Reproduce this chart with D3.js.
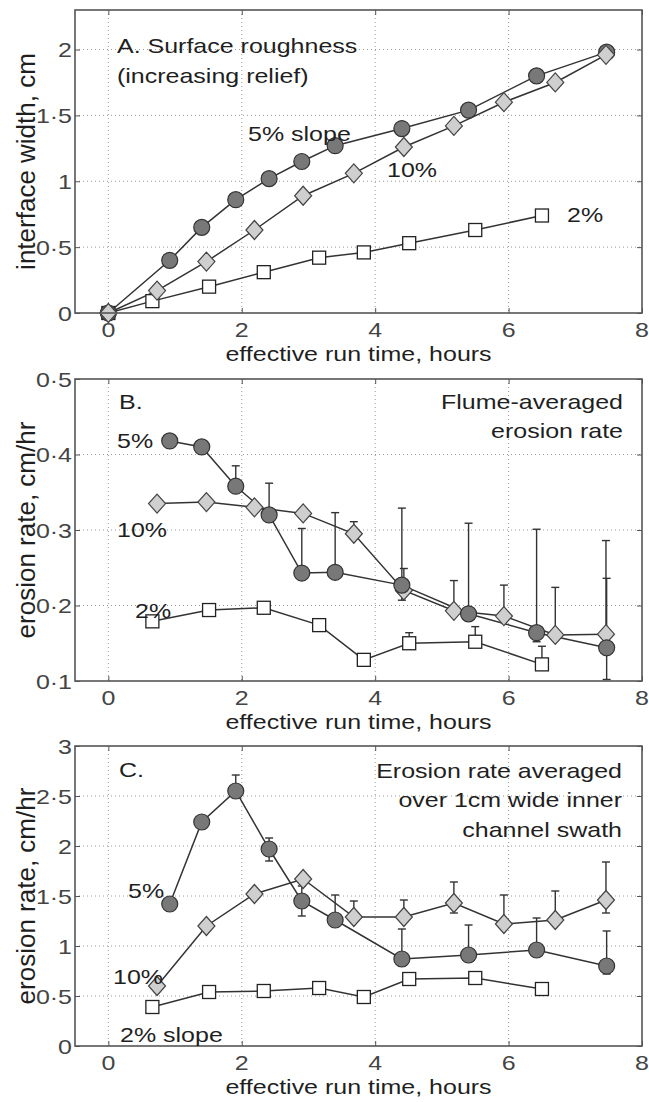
<!DOCTYPE html>
<html>
<head>
<meta charset="utf-8">
<script src="https://cdn.jsdelivr.net/npm/d3@7"></script>
<style>
    body { margin: 0; background: #fff; }
    svg text { font-family: "Liberation Sans", Arial, sans-serif; fill: #1f1f1f; }
</style>
</head>
<body>
<svg id="chart" width="649" height="1102"></svg>
<script>
// run times (hours) of each slope experiment
const hours5 = [0.92, 1.40, 1.91, 2.41, 2.90, 3.40, 4.40, 5.40, 6.42, 7.47];
const hours10 = [0.73, 1.47, 2.19, 2.92, 3.68, 4.43, 5.18, 5.93, 6.70, 7.46];
const hours2 = [0.66, 1.51, 2.33, 3.16, 3.83, 4.51, 5.50, 6.50];

const xTicks = [0, 2, 4, 6, 8];
const yTicksA = [0, 0.5, 1, 1.5, 2];
const yTicksB = [0.1, 0.2, 0.3, 0.4, 0.5];
const yTicksC = [0, 0.5, 1, 1.5, 2, 2.5, 3];

// A. interface width, cm (first point is the start, t = 0)
const roughness5 = [0, 0.40, 0.65, 0.86, 1.02, 1.15, 1.27, 1.40, 1.54, 1.80, 1.98];
const roughness10 = [0, 0.17, 0.39, 0.63, 0.89, 1.06, 1.26, 1.42, 1.60, 1.75, 1.96];
const roughness2 = [0, 0.09, 0.20, 0.31, 0.42, 0.46, 0.53, 0.63, 0.74];

// B. flume-averaged erosion rate, cm/hr
const flume5 = [0.418, 0.410, 0.358, 0.320, 0.243, 0.244, 0.227, 0.189, 0.164, 0.144];
const flume5Hi = [null, null, 0.385, 0.362, 0.302, 0.323, 0.329, 0.309, 0.301, 0.236];
const flume5Lo = [null, null, null, null, null, null, 0.207, null, 0.152, 0.102];
const flume10 = [0.335, 0.337, 0.330, 0.322, 0.295, 0.220, 0.193, 0.186, 0.161, 0.162];
const flume10Hi = [null, null, null, null, 0.311, 0.249, 0.233, 0.227, 0.224, 0.286];
const flume2 = [0.179, 0.194, 0.197, 0.174, 0.128, 0.150, 0.152, 0.122];
const flume2Hi = [null, null, null, null, null, 0.164, 0.172, 0.146];

// C. erosion rate over 1cm inner channel swath, cm/hr
const swath5 = [1.42, 2.24, 2.55, 1.97, 1.45, 1.26, 0.87, 0.91, 0.96, 0.80];
const swath5Hi = [null, null, 2.71, 2.08, 1.60, 1.51, 1.17, 1.21, 1.28, 1.15];
const swath5Lo = [null, null, null, 1.85, 1.30, null, 0.80, null, null, 0.72];
const swath10 = [0.60, 1.20, 1.52, 1.67, 1.29, 1.29, 1.43, 1.22, 1.26, 1.46];
const swath10Hi = [null, null, null, null, 1.45, 1.46, 1.64, 1.51, 1.55, 1.84];
const swath10Lo = [null, null, null, null, null, null, 1.33, null, null, 1.33];
const swath2 = [0.39, 0.54, 0.55, 0.58, 0.49, 0.67, 0.68, 0.57];

const STRETCH = 1.19;
const FONT = 21;
const left = 75, right = 642;

let svg = d3.select('#chart');

let x = d3.scaleLinear()
    .domain([-0.5, 8])
    .range([left, right]);

let fmt = d => String(d).replace('.', '·');

function addText(parent, px, py, str, anchor) {
    return parent.append('text')
        .attr('transform', `translate(${px},${py}) scale(${STRETCH},1)`)
        .attr('text-anchor', anchor || 'start')
        .style('font-size', FONT + 'px')
        .text(str);
}

function withZero(arr) {
    return [0].concat(arr);
}

let panels = [
    {
        top: 10, bottom: 313, domain: [0, 2.3], ticks: yTicksA,
        ylabel: 'interface width, cm',
        series: [
            {hours: withZero(hours2), values: roughness2, shape: 'square'},
            {hours: withZero(hours5), values: roughness5, shape: 'circle'},
            {hours: withZero(hours10), values: roughness10, shape: 'diamond'}
        ],
        notes: [
            [117, 53, 'A. Surface roughness', 'start'],
            [117, 83, '(increasing relief)', 'start'],
            [248, 141, '5% slope', 'start'],
            [387, 177, '10%', 'start'],
            [567, 222, '2%', 'start']
        ]
    },
    {
        top: 379, bottom: 681, domain: [0.1, 0.5], ticks: yTicksB,
        ylabel: 'erosion rate, cm/hr',
        series: [
            {hours: hours2, values: flume2, hi: flume2Hi, shape: 'square'},
            {hours: hours10, values: flume10, hi: flume10Hi, shape: 'diamond'},
            {hours: hours5, values: flume5, hi: flume5Hi, lo: flume5Lo, shape: 'circle'}
        ],
        notes: [
            [119, 409, 'B.', 'start'],
            [117, 448, '5%', 'start'],
            [117, 537, '10%', 'start'],
            [135, 618, '2%', 'start'],
            [623, 409, 'Flume-averaged', 'end'],
            [623, 438, 'erosion rate', 'end']
        ]
    },
    {
        top: 746, bottom: 1046, domain: [0, 3], ticks: yTicksC,
        ylabel: 'erosion rate, cm/hr',
        series: [
            {hours: hours2, values: swath2, shape: 'square'},
            {hours: hours10, values: swath10, hi: swath10Hi, lo: swath10Lo, shape: 'diamond'},
            {hours: hours5, values: swath5, hi: swath5Hi, lo: swath5Lo, shape: 'circle'}
        ],
        notes: [
            [119, 777, 'C.', 'start'],
            [128, 898, '5%', 'start'],
            [113, 984, '10%', 'start'],
            [120, 1042, '2% slope', 'start'],
            [622, 778, 'Erosion rate averaged', 'end'],
            [622, 807, 'over 1cm wide inner', 'end'],
            [622, 837, 'channel swath', 'end']
        ]
    }
];

panels.forEach(drawPanel);

function drawPanel(p) {
    let y = d3.scaleLinear()
        .domain(p.domain)
        .range([p.bottom, p.top]);

    let g = svg.append('g');

    // dotted grid
    g.selectAll('.vgrid')
        .data(xTicks.filter(d => x(d) < right - 1))
        .enter()
        .append('line')
        .attr('x1', d => x(d)).attr('x2', d => x(d))
        .attr('y1', p.top).attr('y2', p.bottom)
        .attr('stroke', '#9a9a9a')
        .attr('stroke-width', 1)
        .attr('stroke-dasharray', '1,3');

    g.selectAll('.hgrid')
        .data(p.ticks.filter(d => y(d) > p.top + 1 && y(d) < p.bottom - 1))
        .enter()
        .append('line')
        .attr('x1', left).attr('x2', right)
        .attr('y1', d => y(d)).attr('y2', d => y(d))
        .attr('stroke', '#9a9a9a')
        .attr('stroke-width', 1)
        .attr('stroke-dasharray', '1,3');

    // inward ticks on all four sides
    [
        [d3.axisBottom(x), `translate(0,${p.top})`, xTicks],
        [d3.axisTop(x), `translate(0,${p.bottom})`, xTicks],
        [d3.axisRight(y), `translate(${left},0)`, p.ticks],
        [d3.axisLeft(y), `translate(${right},0)`, p.ticks]
    ].forEach(([axis, tr, vals]) => {
        let a = g.append('g')
            .attr('transform', tr)
            .call(axis.tickValues(vals).tickSize(5).tickFormat(''));
        a.select('.domain').remove();
        a.selectAll('line').attr('stroke', '#555');
    });

    // tick labels
    xTicks.forEach(d => addText(g, x(d), p.bottom + 24, fmt(d), 'middle').style('fill', '#444'));
    p.ticks.forEach(d => addText(g, 72, y(d) + 7.5, fmt(d), 'end').style('fill', '#444'));

    addText(g, (left + right) / 2, p.bottom + 48, 'effective run time, hours', 'middle');

    g.append('text')
        .attr('transform', `translate(35,${(p.top + p.bottom) / 2}) rotate(-90)`)
        .attr('text-anchor', 'middle')
        .style('font-size', '26px')
        .text(p.ylabel);

    // lines and error bars first, markers on top
    p.series.forEach(s => {
        let pts = s.hours.map((h, i) => [h, s.values[i]]);

        g.append('path')
            .datum(pts)
            .attr('fill', 'none')
            .attr('stroke', '#333')
            .attr('stroke-width', 1.5)
            .attr('d', d3.line().x(d => x(d[0])).y(d => y(d[1])));

        let bars = [];
        s.hours.forEach((h, i) => {
            if (s.hi && s.hi[i] != null) bars.push([h, s.values[i], s.hi[i]]);
            if (s.lo && s.lo[i] != null) bars.push([h, s.values[i], s.lo[i]]);
        });

        let eb = g.selectAll(null)
            .data(bars)
            .enter()
            .append('g')
            .attr('stroke', '#333')
            .attr('stroke-width', 1.4);

        eb.append('line')
            .attr('x1', d => x(d[0])).attr('x2', d => x(d[0]))
            .attr('y1', d => y(d[1])).attr('y2', d => y(d[2]));
        eb.append('line')
            .attr('x1', d => x(d[0]) - 4).attr('x2', d => x(d[0]) + 4)
            .attr('y1', d => y(d[2])).attr('y2', d => y(d[2]));
    });

    p.series.forEach(s => {
        let pts = s.hours.map((h, i) => [h, s.values[i]]);
        let m = g.selectAll(null).data(pts).enter();

        if (s.shape === 'circle') {
            m.append('circle')
                .attr('cx', d => x(d[0]))
                .attr('cy', d => y(d[1]))
                .attr('r', 8)
                .attr('fill', '#787878')
                .attr('stroke', '#333')
                .attr('stroke-width', 1.2);
        } else if (s.shape === 'diamond') {
            m.append('path')
                .attr('d', d => {
                    let cx = x(d[0]), cy = y(d[1]);
                    return `M${cx},${cy - 9.5}L${cx + 8.5},${cy}L${cx},${cy + 9.5}L${cx - 8.5},${cy}Z`;
                })
                .attr('fill', '#cfcfcf')
                .attr('stroke', '#444')
                .attr('stroke-width', 1.2);
        } else {
            m.append('rect')
                .attr('x', d => x(d[0]) - 6.5)
                .attr('y', d => y(d[1]) - 6.5)
                .attr('width', 13)
                .attr('height', 13)
                .attr('fill', '#fff')
                .attr('stroke', '#222')
                .attr('stroke-width', 1.3);
        }
    });

    // frame
    g.append('rect')
        .attr('x', left).attr('y', p.top)
        .attr('width', right - left).attr('height', p.bottom - p.top)
        .attr('fill', 'none')
        .attr('stroke', '#555')
        .attr('stroke-width', 1.6);

    p.notes.forEach(n => addText(g, n[0], n[1], n[2], n[3]));
}
</script>
</body>
</html>
